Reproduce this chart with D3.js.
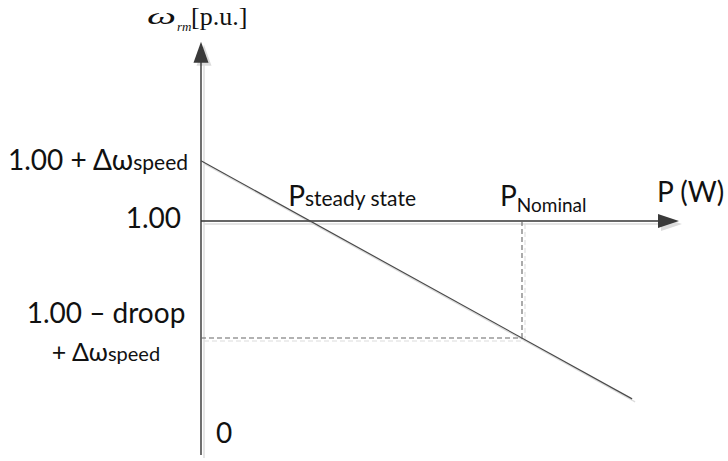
<!DOCTYPE html>
<html>
<head>
<meta charset="utf-8">
<script src="https://cdn.jsdelivr.net/npm/d3@7/dist/d3.min.js"></script>
<style>
  html, body { margin: 0; padding: 0; background: #fff; }
  svg { display: block; }
  .sans { font-family: Lato, "Open Sans", sans-serif; fill: #111; }
  .serif { font-family: "Liberation Serif", "DejaVu Serif", serif; fill: #111; }
</style>
</head>
<body>
<svg id="chart" width="728" height="461"></svg>
<script>
// Droop characteristic: rotor speed (p.u.) versus active power
const deltaSpeed = 0.017;      // speed offset Δω_speed
const droop = 0.05;            // droop at nominal power
const pNominal = 1.0;          // nominal power (normalised)
const pLineEnd = 1.343;        // extent of the drawn droop line
const pAxisEnd = 1.489;        // tip of the power axis
const speedAxisTop = 1.0505;   // tip of the speed axis
const speedAxisBottom = 0.934; // bottom of the speed axis (broken, labelled 0)

const speedLabelValues = [1 + deltaSpeed, 1.0, 1 - droop + deltaSpeed];
const speedLabelText = [
  [["1.00 + Δω", "speed"]],
  [["1.00", ""]],
  [["1.00 – droop", ""], ["+ Δω", "speed"]]
];

const svg = d3.select("#chart");

const x = d3.scaleLinear().domain([0, pNominal]).range([201, 522]);
const y = d3.scaleLinear().domain([1.0, 1 + deltaSpeed]).range([221, 160.7]);

const speedAt = p => 1 + deltaSpeed - droop * p / pNominal;
const pSteady = deltaSpeed / droop * pNominal;

const axisColor = "#333";
const lineColor = "#4a4a4a";
const shadowColor = "#dcdcdc";

function drawDiagram(g, shadow) {
  const stroke = c => shadow ? shadowColor : c;
  // speed axis
  g.append("line")
    .attr("x1", x(0)).attr("x2", x(0))
    .attr("y1", y(speedAxisBottom)).attr("y2", y(speedAxisTop) + 18)
    .attr("stroke", stroke(axisColor)).attr("stroke-width", 1.4);
  // power axis
  g.append("line")
    .attr("x1", x(0)).attr("x2", x(pAxisEnd) - 18)
    .attr("y1", y(1)).attr("y2", y(1))
    .attr("stroke", stroke(axisColor)).attr("stroke-width", 1.4);
  // arrowheads
  const ty = y(speedAxisTop), ax = x(0);
  g.append("path")
    .attr("d", `M${ax},${ty} L${ax + 7.5},${ty + 21} L${ax - 7.5},${ty + 21} Z`)
    .attr("fill", stroke("#3a3a3a"));
  const tx = x(pAxisEnd), ay = y(1);
  g.append("path")
    .attr("d", `M${tx},${ay} L${tx - 21},${ay - 7} L${tx - 21},${ay + 7} Z`)
    .attr("fill", stroke("#3a3a3a"));
  // droop line
  g.append("line")
    .attr("x1", x(0)).attr("y1", y(speedAt(0)))
    .attr("x2", x(pLineEnd)).attr("y2", y(speedAt(pLineEnd)))
    .attr("stroke", stroke(lineColor)).attr("stroke-width", 1.2);
  // dashed guides at nominal power
  g.append("line")
    .attr("x1", x(pNominal)).attr("x2", x(pNominal))
    .attr("y1", y(1)).attr("y2", y(speedAt(pNominal)))
    .attr("stroke", stroke("#666")).attr("stroke-width", 1.1)
    .attr("stroke-dasharray", "5,3");
  g.append("line")
    .attr("x1", x(0)).attr("x2", x(pNominal))
    .attr("y1", y(speedAt(pNominal))).attr("y2", y(speedAt(pNominal)))
    .attr("stroke", stroke("#666")).attr("stroke-width", 1.1)
    .attr("stroke-dasharray", "5,3");
}

drawDiagram(svg.append("g").attr("transform", "translate(3,3)"), true);
drawDiagram(svg.append("g"), false);

// speed axis labels: two right-aligned, the last one centred on two lines
const labelLayout = [
  { x: 188, anchor: "end", dy: [9] },
  { x: 181, anchor: "end", dy: [7] },
  { x: 106, anchor: "middle", dy: [-15, 23] }
];
speedLabelValues.forEach((v, k) => {
  const lay = labelLayout[k];
  speedLabelText[k].forEach((ln, i) => {
    const t = svg.append("text").attr("class", "sans")
      .attr("x", lay.x)
      .attr("y", y(v) + lay.dy[i])
      .attr("text-anchor", lay.anchor)
      .style("font-size", i === 0 ? "28px" : "25px");
    t.append("tspan").text(ln[0]);
    if (ln[1]) t.append("tspan").style("font-size", i === 0 ? "21px" : "20px").text(ln[1]);
  });
});

// zero at the bottom of the broken speed axis
svg.append("text").attr("class", "sans")
  .attr("x", x(0) + 15).attr("y", 443)
  .style("font-size", "28px").text("0");

// speed axis title
svg.append("text").attr("class", "serif")
  .attr("x", 147).attr("y", 24)
  .attr("textLength", 29).attr("lengthAdjust", "spacingAndGlyphs")
  .style("font-style", "italic").style("font-size", "24px").text("ω");
svg.append("text").attr("class", "serif")
  .attr("x", 177).attr("y", 31)
  .style("font-style", "italic").style("font-size", "13px").text("rm");
svg.append("text").attr("class", "serif")
  .attr("x", 191).attr("y", 25)
  .style("font-size", "26px").text("[p.u.]");

// power axis title
svg.append("text").attr("class", "sans")
  .attr("x", 657).attr("y", 202)
  .style("font-size", "28px").text("P (W)");

// steady-state operating point
const ss = svg.append("text").attr("class", "sans")
  .attr("x", x(pSteady) - 22).attr("y", 206);
ss.append("tspan").style("font-size", "28px").text("P");
ss.append("tspan").style("font-size", "21px").text("steady state");

// nominal operating point
const pn = svg.append("text").attr("class", "sans")
  .attr("x", x(pNominal) - 22).attr("y", 206);
pn.append("tspan").style("font-size", "28px").text("P");
pn.append("tspan").style("font-size", "19px").attr("dy", 6).text("Nominal");
</script>
</body>
</html>
